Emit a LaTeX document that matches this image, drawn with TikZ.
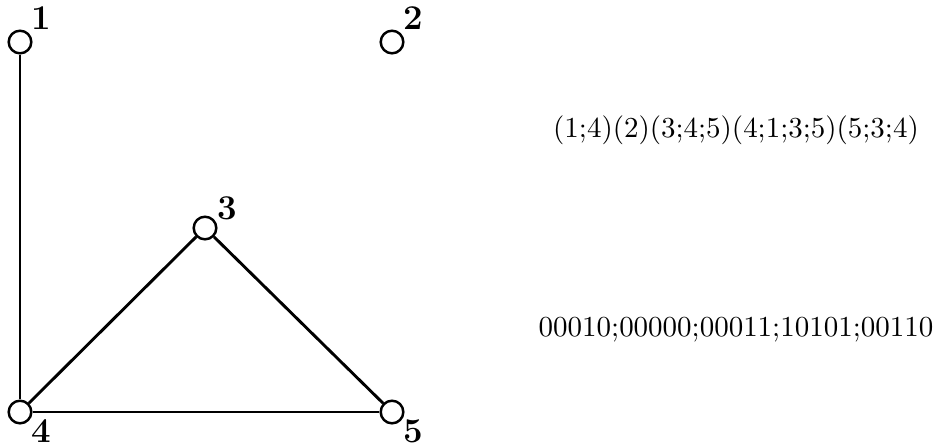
\documentclass[tikz,border=0pt]{standalone}
\usepackage{tikz}
\usetikzlibrary{positioning}

\begin{document}
\begin{tikzpicture}[x=0.345pt, y=-0.345pt,
    vtx/.style={draw, circle, minimum size=7.8pt, inner sep=0pt, line width=0.85pt, fill=white},
    lbl/.style={font=\large\bfseries, inner sep=0pt},
    edge/.style={line width=1pt},
    code/.style={inner sep=0pt}]

\useasboundingbox (0,0) rectangle (935,446);

% === Vertices ===
\node[vtx] (v1) at (20,42)   {};
\node[vtx] (v2) at (392,42)  {};
\node[vtx] (v3) at (205,228) {};
\node[vtx] (v4) at (20,412)  {};
\node[vtx] (v5) at (392,412) {};

% === Edges ===
\draw[edge] (v1) -- (v4);
\draw[edge] (v4) -- (v3);
\draw[edge] (v3) -- (v5);
\draw[edge] (v4) -- (v5);

% === Vertex labels ===
\node[lbl] (l1) at (41,18)   {1};
\node[lbl] (l2) at (413,18)  {2};
\node[lbl] (l3) at (227,208) {3};
\node[lbl] (l4) at (41,431)  {4};
\node[lbl] (l5) at (413,431) {5};

% === Encodings ===
\node[code] (adj) at (736,130) {(1;4)(2)(3;4;5)(4;1;3;5)(5;3;4)};
\node[code] (mat) at (736,330) {00010;00000;00011;10101;00110};

\end{tikzpicture}
\end{document}
